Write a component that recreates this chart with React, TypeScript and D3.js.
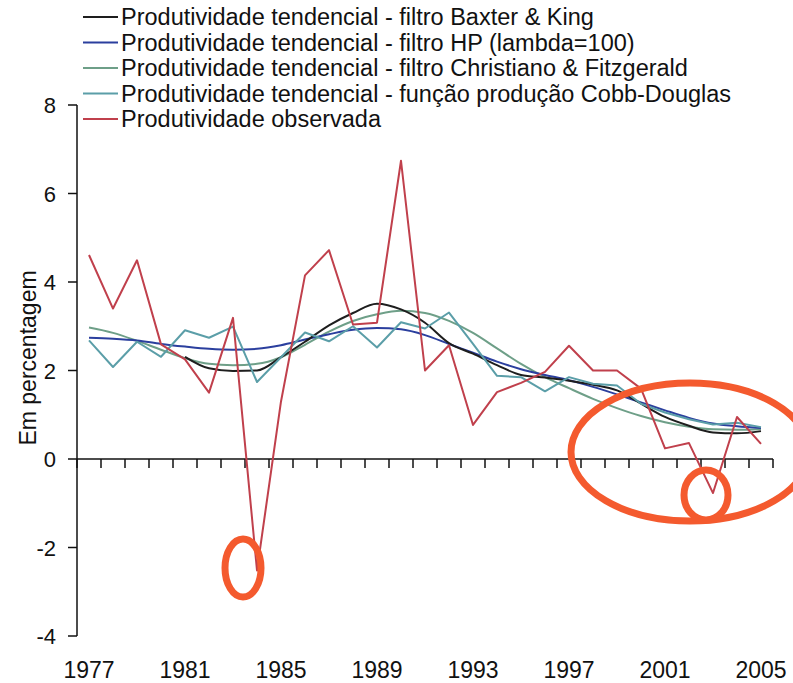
import React from "react";
import * as d3 from "d3";

const years = d3.range(1977, 2006);
const tickYears = [1977, 1981, 1985, 1989, 1993, 1997, 2001, 2005];
const yTicks = [-4, -2, 0, 2, 4, 6, 8];

const observed = [4.61, 3.4, 4.49, 2.59, 2.25, 1.5, 3.19, -2.52, 1.3, 4.15, 4.72, 3.04, 3.08, 6.74, 2.0, 2.57, 0.77, 1.51, 1.72, 1.97, 2.56, 2.0, 2.0, 1.59, 0.24, 0.36, -0.77, 0.95, 0.34];
const cobbDouglas = [2.68, 2.08, 2.65, 2.31, 2.91, 2.74, 2.99, 1.74, 2.3, 2.86, 2.66, 3.0, 2.52, 3.09, 2.95, 3.31, 2.6, 1.88, 1.85, 1.53, 1.85, 1.7, 1.66, 1.25, 1.05, 0.9, 0.78, 0.82, 0.72];
const hp = [2.74, 2.72, 2.68, 2.6, 2.54, 2.49, 2.47, 2.49, 2.57, 2.7, 2.82, 2.92, 2.96, 2.93, 2.8, 2.6, 2.4, 2.2, 2.03, 1.9, 1.78, 1.63, 1.46, 1.28, 1.1, 0.93, 0.8, 0.74, 0.7];
const christianoFitzgerald = [2.97, 2.85, 2.67, 2.47, 2.28, 2.15, 2.12, 2.15, 2.3, 2.58, 2.88, 3.12, 3.27, 3.35, 3.3, 3.12, 2.85, 2.5, 2.15, 1.85, 1.6, 1.36, 1.15, 0.97, 0.83, 0.73, 0.67, 0.66, 0.68];
const baxterKing = [null, null, null, null, 2.31, 2.05, 1.99, 2.0, 2.3, 2.65, 3.02, 3.3, 3.51, 3.38, 3.08, 2.62, 2.38, 2.12, 1.9, 1.84, 1.77, 1.68, 1.55, 1.25, 0.95, 0.75, 0.6, 0.58, 0.63];

const seriesNames = [
  "Produtividade tendencial - filtro Baxter & King",
  "Produtividade tendencial - filtro HP (lambda=100)",
  "Produtividade tendencial - filtro Christiano & Fitzgerald",
  "Produtividade tendencial - função produção Cobb-Douglas",
  "Produtividade observada",
];
const seriesColors = ["#1e1e1e", "#2b3f9e", "#6e9f88", "#5b9ea8", "#c0404c"];

export default function App() {
  const W = 793, H = 683;
  const x = d3.scaleBand<number>().domain(years).range([77, 773]).padding(0);
  const cx = (yr: number) => (x(yr) as number) + x.bandwidth() / 2;
  const y = d3.scaleLinear().domain([-4, 8]).range([636, 105]);

  const mk = (vals: (number | null)[], smooth: boolean) =>
    d3
      .line<number | null>()
      .defined((d) => d != null)
      .x((_, i) => cx(years[i]))
      .y((d) => y(d as number))
      .curve(smooth ? d3.curveMonotoneX : d3.curveLinear)(vals) || "";

  const lines = [
    { vals: christianoFitzgerald, color: seriesColors[2], smooth: true },
    { vals: hp, color: seriesColors[1], smooth: true },
    { vals: baxterKing, color: seriesColors[0], smooth: true },
    { vals: cobbDouglas, color: seriesColors[3], smooth: false },
    { vals: observed, color: seriesColors[4], smooth: false },
  ];

  const font = "'Liberation Sans', Arial, sans-serif";
  const boundaries = d3.range(0, years.length + 1).map((i) => 77 + i * x.bandwidth());

  return (
    <svg width={W} height={H} style={{ position: "absolute", left: 0, top: 0 }} fontFamily={font}>
      <rect width={W} height={H} fill="#fff" />
      {/* Legend */}
      {seriesNames.map((n, i) => (
        <g key={n} transform={`translate(0, ${17 + i * 25.5})`}>
          <line x1={83} x2={118} y1={0} y2={0} stroke={seriesColors[i]} strokeWidth={2} />
          <text x={121} y={8} fontSize={23.5} fill="#111">{n}</text>
        </g>
      ))}
      {/* Y axis */}
      <line x1={77} x2={77} y1={y(8)} y2={y(-4)} stroke="#111" strokeWidth={1.5} />
      {yTicks.map((t) => (
        <g key={t}>
          <line x1={68} x2={77} y1={y(t)} y2={y(t)} stroke="#111" strokeWidth={1.5} />
          <text x={56} y={y(t) + 8} fontSize={22} textAnchor="end" fill="#111">{t}</text>
        </g>
      ))}
      <text transform={`translate(36, 358) rotate(-90)`} fontSize={23} textAnchor="middle" fill="#111">Em percentagem</text>
      {/* X axis at zero */}
      <line x1={77} x2={773} y1={y(0)} y2={y(0)} stroke="#111" strokeWidth={1.5} />
      {boundaries.map((b, i) => (
        <line key={i} x1={b} x2={b} y1={y(0)} y2={y(0) + 9} stroke="#111" strokeWidth={1.5} />
      ))}
      {tickYears.map((t) => (
        <text key={t} x={cx(t)} y={678} fontSize={23} textAnchor="middle" fill="#111">{t}</text>
      ))}
      {/* Series */}
      {lines.map((l, i) => (
        <path key={i} d={mk(l.vals, l.smooth)} fill="none" stroke={l.color} strokeWidth={2} strokeLinejoin="round" />
      ))}
      {/* Annotations */}
      <ellipse cx={690} cy={452} rx={119} ry={69} fill="none" stroke="#f45a2e" strokeWidth={7} />
      <ellipse cx={243} cy={568} rx={18} ry={29} fill="none" stroke="#f45a2e" strokeWidth={7} />
      <ellipse cx={706} cy={495} rx={22} ry={25} fill="none" stroke="#f45a2e" strokeWidth={7} />
    </svg>
  );
}
